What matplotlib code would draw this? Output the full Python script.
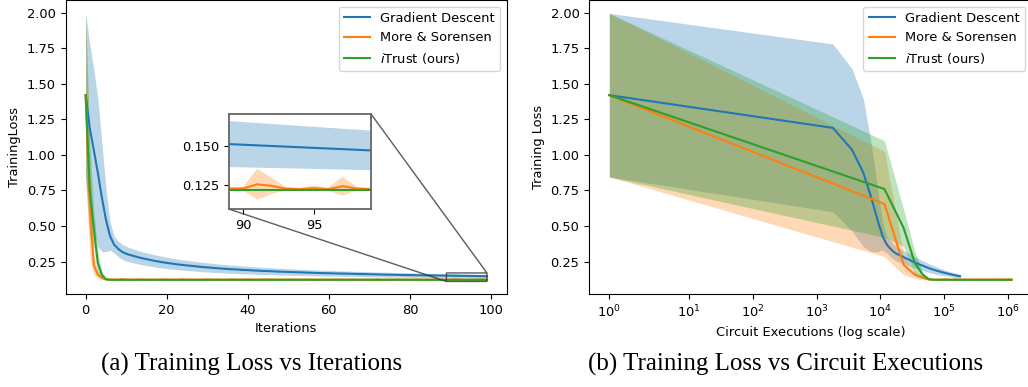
import numpy as np
import matplotlib.pyplot as plt

# ------------------------ data

iterations = np.arange(100)

# Gradient Descent : moyenne et écart-type par itération
gd_mean = [1.42, 1.19, 1.035, 0.875, 0.70, 0.545, 0.43, 0.37, 0.34, 0.318,
           0.305, 0.296, 0.288, 0.280, 0.273, 0.267, 0.261, 0.255, 0.250, 0.245,
           0.241, 0.237, 0.233, 0.229, 0.226, 0.223, 0.220, 0.217, 0.214, 0.211,
           0.209, 0.207, 0.204, 0.202, 0.200, 0.198, 0.196, 0.195, 0.193, 0.191,
           0.190, 0.188, 0.187, 0.185, 0.184, 0.183, 0.182, 0.180, 0.179, 0.178,
           0.177, 0.176, 0.175, 0.174, 0.173, 0.172, 0.171, 0.170, 0.169, 0.1685,
           0.1680, 0.1672, 0.1664, 0.1657, 0.1650, 0.1643, 0.1636, 0.1629, 0.1622, 0.1616,
           0.1610, 0.1603, 0.1596, 0.1589, 0.1583, 0.1577, 0.1571, 0.1565, 0.1559, 0.1554,
           0.1549, 0.1544, 0.1539, 0.1534, 0.1530, 0.1526, 0.1522, 0.1518, 0.1514, 0.1510,
           0.1506, 0.1502, 0.1498, 0.1494, 0.1490, 0.1486, 0.1482, 0.1478, 0.1474, 0.1470]
gd_std = [0.575, 0.59, 0.57, 0.52, 0.38, 0.225, 0.10, 0.06, 0.055, 0.053,
          0.052, 0.050, 0.049, 0.047, 0.046, 0.045, 0.044, 0.043, 0.042, 0.041,
          0.040, 0.039, 0.038, 0.037, 0.036, 0.036, 0.035, 0.034, 0.033, 0.033,
          0.032, 0.032, 0.031, 0.030, 0.030, 0.029, 0.029, 0.028, 0.028, 0.027,
          0.027, 0.026, 0.026, 0.026, 0.025, 0.025, 0.024, 0.024, 0.024, 0.023,
          0.023, 0.023, 0.022, 0.022, 0.022, 0.021, 0.021, 0.021, 0.020, 0.020,
          0.020, 0.020, 0.019, 0.019, 0.019, 0.019, 0.018, 0.018, 0.018, 0.018,
          0.018, 0.017, 0.017, 0.017, 0.017, 0.017, 0.016, 0.016, 0.016, 0.016,
          0.016, 0.016, 0.015, 0.015, 0.015, 0.015, 0.015, 0.015, 0.015, 0.0145,
          0.0143, 0.0141, 0.0139, 0.0137, 0.0135, 0.0133, 0.0131, 0.0129, 0.0127, 0.0125]

# More & Sorensen
ms_mean = [1.42, 0.655, 0.227, 0.157, 0.136, 0.124, 0.1225, 0.1229, 0.1229, 0.1255,
           0.1238, 0.1229, 0.1229, 0.1245, 0.1229, 0.1226, 0.1229, 0.1229, 0.1229, 0.1242,
           0.1229, 0.1229, 0.1226, 0.1229, 0.1243, 0.1229, 0.1229, 0.1229, 0.1226, 0.1229,
           0.1244, 0.1229, 0.1229, 0.1229, 0.1226, 0.1229, 0.1242, 0.1229, 0.1229, 0.1229,
           0.1246, 0.1229, 0.1226, 0.1229, 0.1229, 0.1243, 0.1229, 0.1229, 0.1226, 0.1229,
           0.1242, 0.1229, 0.1229, 0.1229, 0.1229, 0.1245, 0.1229, 0.1226, 0.1229, 0.1229,
           0.1229, 0.1229, 0.1243, 0.1229, 0.1229, 0.1229, 0.1246, 0.1229, 0.1226, 0.1229,
           0.1229, 0.1229, 0.1244, 0.1229, 0.1229, 0.1226, 0.1229, 0.1245, 0.1229, 0.1229,
           0.1229, 0.1229, 0.1243, 0.1229, 0.1226, 0.1229, 0.1244, 0.1229, 0.1229, 0.1229,
           0.1229, 0.1256, 0.1246, 0.1229, 0.1225, 0.1232, 0.1225, 0.1244, 0.1229, 0.1225]
ms_std = [0.575, 0.37, 0.07, 0.025, 0.012, 0.005, 0.002, 0.001, 0.001, 0.007,
          0.004, 0.001, 0.001, 0.005, 0.001, 0.001, 0.001, 0.001, 0.001, 0.004,
          0.001, 0.001, 0.001, 0.001, 0.005, 0.001, 0.001, 0.001, 0.001, 0.001,
          0.005, 0.001, 0.001, 0.001, 0.001, 0.001, 0.004, 0.001, 0.001, 0.001,
          0.006, 0.001, 0.001, 0.001, 0.001, 0.005, 0.001, 0.001, 0.001, 0.001,
          0.004, 0.001, 0.001, 0.001, 0.001, 0.005, 0.001, 0.001, 0.001, 0.001,
          0.001, 0.001, 0.005, 0.001, 0.001, 0.001, 0.006, 0.001, 0.001, 0.001,
          0.001, 0.001, 0.005, 0.001, 0.001, 0.001, 0.001, 0.005, 0.001, 0.001,
          0.001, 0.001, 0.005, 0.001, 0.001, 0.001, 0.005, 0.001, 0.001, 0.001,
          0.001, 0.0097, 0.0052, 0.001, 0.001, 0.0015, 0.001, 0.006, 0.0012, 0.001]

# iTrust
it_mean = [1.42, 0.76, 0.486, 0.24, 0.157, 0.126, 0.1222] + [0.1219] * 93
it_std = [0.575, 0.34, 0.13, 0.08, 0.015, 0.004, 0.001] + [0.0005] * 93

# nombre d'exécutions de circuit par itération
gd_cost = 1800
ms_cost = 11600
it_cost = 11600

labels = ['Gradient Descent', 'More & Sorensen', r'$i$Trust (ours)']
colors = ['#1f77b4', '#ff7f0e', '#2ca02c']

# ------------------------

plt.rcParams['font.size'] = 9.4

means = [np.array(gd_mean), np.array(ms_mean), np.array(it_mean)]
stds = [np.array(gd_std), np.array(ms_std), np.array(it_std)]
executions = [np.maximum(iterations * c, 1) for c in (gd_cost, ms_cost, it_cost)]

fig = plt.figure(figsize=(10.28, 3.87), dpi=100)
ax1 = fig.add_axes([65.6 / 1028, 93 / 387, 441.4 / 1028, 294 / 387])
ax2 = fig.add_axes([589.2 / 1028, 93 / 387, 442.5 / 1028, 294 / 387])
axins = fig.add_axes([228.7 / 1028, 178 / 387, 142.3 / 1028, 95 / 387])


def draw(ax, xs):
    for x, m, s, c in zip(xs, means, stds, colors):
        ax.fill_between(x, m - s, m + s, color=c, alpha=0.3, linewidth=0)
    for x, m, c, lab in zip(xs, means, colors, labels):
        ax.plot(x, m, color=c, label=lab, linewidth=1.5)


draw(ax1, [iterations] * 3)
ax1.set_xlabel("Iterations")
ax1.set_ylabel("TrainingLoss")
ax1.legend(loc='upper right')

draw(axins, [iterations] * 3)
axins.set_xlim(89, 99)
axins.set_ylim(0.11, 0.17)
axins.set_xticks([90, 95])
axins.set_yticks([0.125, 0.150])
axins.set_yticklabels(["0.125", "0.150"])
for sp in axins.spines.values():
    sp.set_color('0.4')
    sp.set_linewidth(1.3)
ax1.indicate_inset_zoom(axins, edgecolor='0.2', alpha=0.8, linewidth=1.0)

draw(ax2, executions)
ax2.set_xscale('symlog')
ax2.set_xlabel("Circuit Executions (log scale)")
ax2.set_ylabel("Training Loss")
ax2.legend(loc='upper right')

fig.text(252 / 1028, 1 - 364 / 387, "(a) Training Loss vs Iterations",
         ha='center', va='center', family='Liberation Serif', fontsize=18)
fig.text(785.5 / 1028, 1 - 364 / 387, "(b) Training Loss vs Circuit Executions",
         ha='center', va='center', family='Liberation Serif', fontsize=18)

fig.savefig('out.png', dpi=100)
